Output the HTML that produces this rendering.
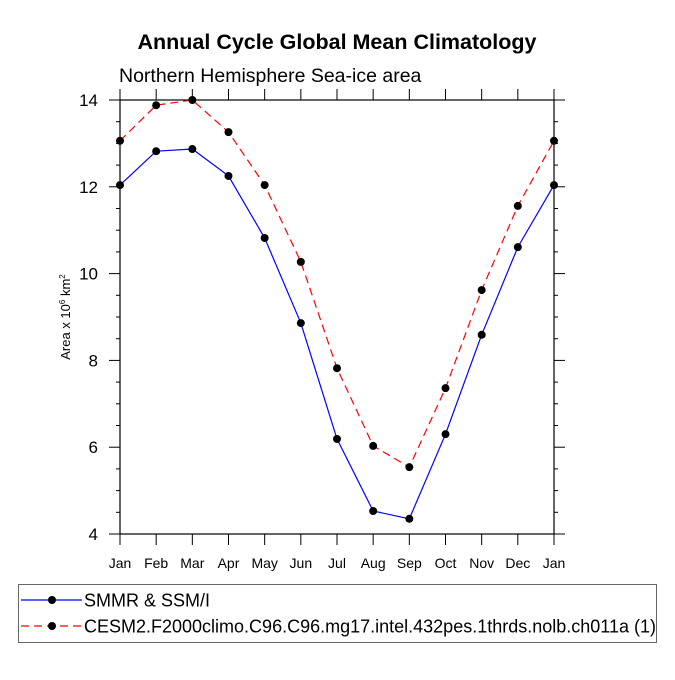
<!DOCTYPE html>
<html><head><meta charset="utf-8"><style>
body{margin:0;background:#fff}
svg text{font-family:"Liberation Sans",Helvetica,Arial,sans-serif;fill:#000}
</style></head><body>
<svg width="675" height="675" viewBox="0 0 675 675">
<text x="337" y="49" text-anchor="middle" font-size="21.5" font-weight="bold">Annual Cycle Global Mean Climatology</text>
<text x="119" y="82" font-size="19.5">Northern Hemisphere Sea-ice area</text>
<text transform="translate(70,317) rotate(-90)" text-anchor="middle" font-size="13">Area x 10<tspan dy="-5" font-size="8">6</tspan><tspan dy="5"> km</tspan><tspan dy="-5" font-size="8">2</tspan></text>
<g id="axes"></g>
<g id="series"></g>
<g>
<rect x="18.5" y="584.5" width="638" height="58" fill="none" stroke="#666"/>
<g>
<line x1="21" y1="600" x2="82" y2="600" stroke="#00f" stroke-width="1.2"/>
<circle cx="52" cy="600" r="4" fill="#000"/>
<text x="84" y="606.5" font-size="18">SMMR &amp; SSM/I</text></g>
<g>
<line x1="21" y1="626" x2="82" y2="626" stroke="#f00" stroke-width="1.2" stroke-dasharray="8,5"/>
<circle cx="52" cy="626" r="4" fill="#000"/>
<text x="84" y="632.5" font-size="18">CESM2.F2000climo.C96.C96.mg17.intel.432pes.1thrds.nolb.ch011a (1)</text></g>
</g>
</svg>
<script>
const months=["Jan","Feb","Mar","Apr","May","Jun","Jul","Aug","Sep","Oct","Nov","Dec","Jan"];
const obsValues=[12.04,12.82,12.87,12.25,10.82,8.86,6.19,4.53,4.35,6.30,8.59,10.61,12.04];
const modelValues=[13.06,13.88,14.0,13.26,12.04,10.27,7.82,6.03,5.54,7.36,9.62,11.56,13.06];
const yTicks=[4,6,8,10,12,14];
const NS="http://www.w3.org/2000/svg";
const X0=120,X1=554,Y0=534,Y1=100,YMIN=4,YMAX=14;
const xs=i=>X0+i*(X1-X0)/(months.length-1);
const ys=v=>Y0-(v-YMIN)*(Y0-Y1)/(YMAX-YMIN);
function mk(t,a,p){const e=document.createElementNS(NS,t);for(const k in a)e.setAttribute(k,a[k]);p.appendChild(e);return e;}
const ax=document.getElementById('axes');
const frame=mk('rect',{x:X0,y:Y1,width:X1-X0,height:Y0-Y1,fill:'none',stroke:'#000','stroke-width':1.2},ax);


months.forEach((m,i)=>{const x=xs(i);
mk('line',{x1:x,y1:Y0,x2:x,y2:Y0+11,stroke:'#000'},ax);
mk('line',{x1:x,y1:Y1,x2:x,y2:Y1-11,stroke:'#000'},ax);
const t=mk('text',{x:x,y:Y0+34,'text-anchor':'middle','font-size':14},ax);t.textContent=m;

});
for(let v=YMIN;v<=YMAX;v+=0.5){const y=ys(v);const maj=yTicks.includes(v);const L=maj?11:4;
mk('line',{x1:X0,y1:y,x2:X0-L,y2:y,stroke:'#000'},ax);
mk('line',{x1:X1,y1:y,x2:X1+L,y2:y,stroke:'#000'},ax);}
yTicks.forEach(v=>{const t=mk('text',{x:X0-22,y:ys(v)+6,'text-anchor':'end','font-size':17},ax);t.textContent=v;

});
const sg=document.getElementById('series');
function series(vals,color,dash,name){const g=mk('g',{},sg);


const a={points:vals.map((v,i)=>xs(i)+','+ys(v)).join(' '),fill:'none',stroke:color,'stroke-width':1.2};
if(dash)a['stroke-dasharray']=dash;mk('polyline',a,g);
vals.forEach((v,i)=>{const c=mk('circle',{cx:xs(i),cy:ys(v),r:4,fill:'#000'},g);

});}
series(modelValues,'#f00','8,5','model-series');
series(obsValues,'#00f',null,'observed-series');
</script>
</body></html>
